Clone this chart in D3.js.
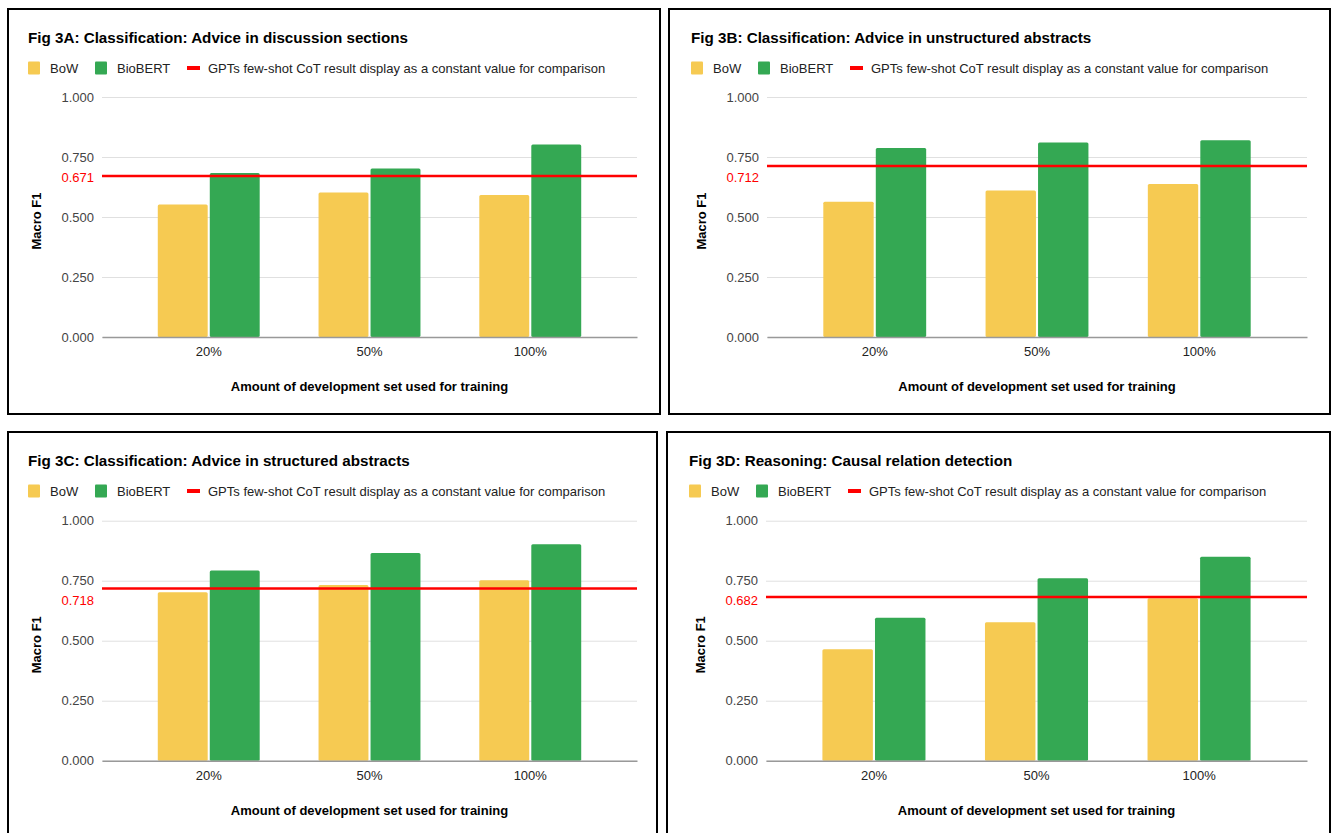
<!DOCTYPE html>
<html>
<head>
<meta charset="utf-8">
<script src="https://cdn.jsdelivr.net/npm/d3@7"></script>
<style>
  body { margin: 0; background: #fff; }
  svg { display: block; font-family: "Liberation Sans", Arial, sans-serif; }
</style>
</head>
<body>
<svg id="chart" width="1338" height="833"></svg>
<script>
// values
var categories = ["20%", "50%", "100%"]
var seriesNames = ["BoW", "BioBERT"]
var panelTitles = [
  "Fig 3A: Classification: Advice in discussion sections",
  "Fig 3B: Classification: Advice in unstructured abstracts",
  "Fig 3C: Classification: Advice in structured abstracts",
  "Fig 3D: Reasoning: Causal relation detection"
]
var bowScores = [
  [0.552, 0.602, 0.592],
  [0.564, 0.610, 0.638],
  [0.702, 0.732, 0.752],
  [0.464, 0.577, 0.677]
]
var biobertScores = [
  [0.683, 0.702, 0.802],
  [0.788, 0.810, 0.820],
  [0.792, 0.865, 0.902],
  [0.596, 0.760, 0.850]
]
var gptScores = [0.671, 0.712, 0.718, 0.682]
var yTicks = [0, 0.25, 0.5, 0.75, 1]
var gptLabel = "GPTs few-shot CoT result display as a constant value for comparison"
var yTitle = "Macro F1"
var xTitle = "Amount of development set used for training"

var colors = { BoW: "#f6ca52", BioBERT: "#34a853" }
var fs = 13

// panel frames (layout only)
var panels = [
  { box: [8, 9, 652, 405], tx: 28, ty: 43, l: 102, r: 637, t: 97, b: 337 },
  { box: [669, 9, 661, 405], tx: 691, ty: 43, l: 767, r: 1307, t: 97, b: 337 },
  { box: [8, 432, 649, 420], tx: 28, ty: 466, l: 102, r: 637, t: 520.7, b: 760.7 },
  { box: [667, 432, 663, 420], tx: 689, ty: 466, l: 766, r: 1307, t: 520.7, b: 760.7 }
]

var svg = d3.select("#chart")

panels.forEach(function(p, i) {
  var g = svg.append("g")

  g.append("rect")
    .attr("x", p.box[0]).attr("y", p.box[1])
    .attr("width", p.box[2]).attr("height", p.box[3])
    .attr("fill", "#fff").attr("stroke", "#000").attr("stroke-width", 2)

  g.append("text")
    .attr("x", p.tx).attr("y", p.ty)
    .attr("font-size", 15.2).attr("font-weight", "bold").attr("fill", "#000")
    .text(panelTitles[i])

  // legend
  var ly = p.ty + 25
  var leg = g.append("g").attr("font-size", fs).attr("fill", "#222")
  leg.append("rect").attr("x", p.tx).attr("y", ly - 6.5).attr("width", 12).attr("height", 13)
    .attr("rx", 1).attr("fill", colors.BoW)
  leg.append("text").attr("x", p.tx + 22).attr("y", ly).attr("dy", "0.35em").text(seriesNames[0])
  leg.append("rect").attr("x", p.tx + 67).attr("y", ly - 6.5).attr("width", 12).attr("height", 13)
    .attr("rx", 1).attr("fill", colors.BioBERT)
  leg.append("text").attr("x", p.tx + 89).attr("y", ly).attr("dy", "0.35em").text(seriesNames[1])
  leg.append("line").attr("x1", p.tx + 159).attr("x2", p.tx + 172).attr("y1", ly).attr("y2", ly)
    .attr("stroke", "#ff0000").attr("stroke-width", 4)
  leg.append("text").attr("x", p.tx + 180).attr("y", ly).attr("dy", "0.35em").text(gptLabel)

  var y = d3.scaleLinear().domain([0, 1]).range([p.b, p.t])
  var x0 = d3.scaleBand().domain(categories).range([p.l, p.r])
    .paddingInner(0.366).paddingOuter(0.347)
  var x1 = d3.scaleBand().domain(seriesNames).range([0, x0.bandwidth()]).paddingInner(0.04)

  // gridlines + y tick labels
  var yAxis = g.append("g")
    .attr("transform", "translate(" + p.l + ",0)")
    .call(d3.axisLeft(y).tickValues(yTicks).tickFormat(d3.format(".3f"))
      .tickSize(-(p.r - p.l)).tickPadding(8))
  yAxis.select(".domain").remove()
  yAxis.selectAll(".tick line").attr("stroke", "#e0e0e0").attr("stroke-width", 1)
  yAxis.selectAll(".tick text").attr("font-size", fs).attr("fill", "#444")
    .attr("font-family", "Liberation Sans, Arial, sans-serif")

  // bars
  var rows = categories.map(function(c, j) {
    return { cat: c, BoW: bowScores[i][j], BioBERT: biobertScores[i][j] }
  })
  g.append("g").selectAll("g")
    .data(rows)
    .enter()
      .append("g")
      .attr("transform", function(d) { return "translate(" + x0(d.cat) + ",0)" })
      .selectAll("rect")
      .data(function(d) { return seriesNames.map(function(k) { return { key: k, value: d[k] } }) })
      .enter()
        .append("rect")
        .attr("x", function(d) { return x1(d.key) })
        .attr("y", function(d) { return y(d.value) })
        .attr("width", x1.bandwidth())
        .attr("height", function(d) { return y(0) - y(d.value) })
        .attr("rx", 1.5)
        .attr("fill", function(d) { return colors[d.key] })

  // baseline + x labels
  var xAxis = g.append("g")
    .attr("transform", "translate(0," + p.b + ")")
    .call(d3.axisBottom(x0).tickSize(0).tickPadding(10))
  xAxis.select(".domain").attr("stroke", "#999").attr("stroke-width", 1.5)
  xAxis.selectAll(".tick text").attr("font-size", fs).attr("fill", "#222")
    .attr("font-family", "Liberation Sans, Arial, sans-serif")

  // GPT constant line
  var gy = y(gptScores[i])
  g.append("line")
    .attr("x1", p.l).attr("x2", p.r).attr("y1", gy).attr("y2", gy)
    .attr("stroke", "#ff0000").attr("stroke-width", 2.5)
  g.append("text")
    .attr("x", p.l - 8).attr("y", Math.max(gy, y(0.75) + 20)).attr("dy", "0.35em")
    .attr("text-anchor", "end").attr("font-size", fs).attr("fill", "#ff0000")
    .text(d3.format(".3f")(gptScores[i]))

  // axis titles
  g.append("text")
    .attr("transform", "translate(" + (p.l - 61) + "," + ((p.t + p.b) / 2 + 4) + ") rotate(-90)")
    .attr("text-anchor", "middle").attr("font-size", fs).attr("font-weight", "bold")
    .text(yTitle)
  g.append("text")
    .attr("x", (p.l + p.r) / 2).attr("y", p.b + 54)
    .attr("text-anchor", "middle").attr("font-size", fs).attr("font-weight", "bold")
    .text(xTitle)
})
</script>
</body>
</html>
